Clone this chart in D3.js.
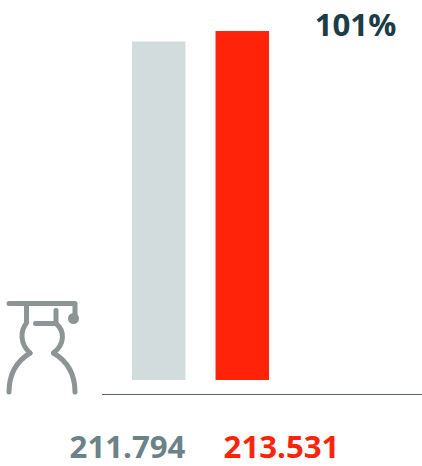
<!DOCTYPE html>
<html lang="en">
<head>
<meta charset="UTF-8">
<title>Chart</title>
<script src="https://cdnjs.cloudflare.com/ajax/libs/d3/7.6.1/d3.min.js"></script>
<style>
  html, body { margin: 0; padding: 0; background: #fff; }
  svg { display: block; }
  text { font-family: "Open Sans", sans-serif; font-weight: 740; }
</style>
</head>
<body>
<svg id="chart" width="422" height="466"></svg>
<script>
    // Values
    const categories = ["before", "after"];
    const values = [211794, 213531];
    const valueLabels = ["211.794", "213.531"];
    const barColors = ["#d3dcdc", "#ff230a"];
    const labelColors = ["#6a8288", "#ff230a"];
    const changeLabel = "101%";

    const svg = d3.select("#chart");

    // The value axis is cut off, bars do not start from zero
    const y = d3.scaleLinear().domain([155800, 213531]).range([380, 31]);
    const x = d3.scaleBand().domain(categories).range([132, 269]).paddingInner(0.36);
    // Labels are spaced wider than the bars
    const xLabel = d3.scalePoint().domain(categories).range([127.5, 281.5]);

    svg.selectAll("rect.bar")
        .data(values)
        .join("rect")
        .attr("class", "bar")
        .attr("x", (d, i) => x(categories[i]))
        .attr("y", d => y(d))
        .attr("width", x.bandwidth())
        .attr("height", d => 380 - y(d))
        .attr("fill", (d, i) => barColors[i]);

    // Baseline
    svg.append("line")
        .attr("x1", 102).attr("x2", 422)
        .attr("y1", 394.5).attr("y2", 394.5)
        .attr("stroke", "#566266")
        .attr("stroke-width", 1.2);

    // Value labels under the bars
    svg.selectAll("text.value")
        .data(valueLabels)
        .join("text")
        .attr("class", "value")
        .attr("x", (d, i) => xLabel(categories[i]))
        .attr("y", 458)
        .attr("text-anchor", "middle")
        .attr("font-size", 31.2)
        .attr("fill", (d, i) => labelColors[i])
        .text(d => d);

    svg.append("text")
        .attr("x", 355.5)
        .attr("y", 36)
        .attr("text-anchor", "middle")
        .attr("font-size", 31.2)
        .attr("fill", "#1c3c46")
        .text(changeLabel);

    // Graduate icon
    const icon = svg.append("g")
        .attr("fill", "none")
        .attr("stroke", "#8c9496")
        .attr("stroke-width", 5)
        .attr("stroke-linecap", "round")
        .attr("stroke-linejoin", "round");
    [
        "M9,303.5H75V318",
        "M26.5,303.5V323C20,331 20,344 30,353",
        "M30,353C17,361 9,374 9,392",
        "M56,310.5V323.5H35.5",
        "M56,323.5C65,331 65,344 53.5,353",
        "M53.5,353C67,361 75,374 75,392"
    ].forEach(d => icon.append("path").attr("d", d));
    svg.append("circle")
        .attr("cx", 73.5).attr("cy", 318.5).attr("r", 5.5)
        .attr("fill", "#8c9496");
</script>
</body>
</html>
